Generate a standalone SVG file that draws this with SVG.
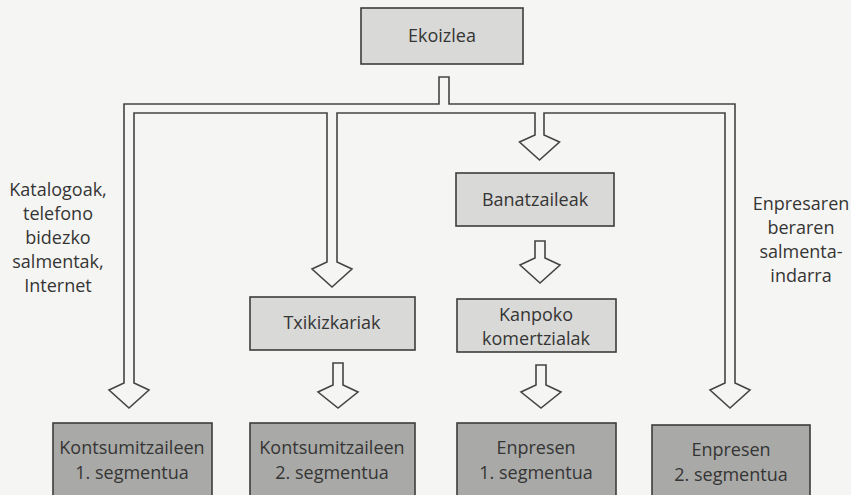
<svg xmlns="http://www.w3.org/2000/svg" width="851" height="495" viewBox="0 0 851 495">
  <style>
    .box { stroke: #3c3c3c; stroke-width: 1.6; }
    .light { fill: #d9d9d7; }
    .dark { fill: #a9a9a7; }
    .lbl { font-family: "Open Sans", "Noto Sans", sans-serif; font-size: 18px; fill: #353535; text-anchor: middle; }
    .pipe { fill: #f5f5f3; stroke: #444; stroke-width: 1.6; stroke-linejoin: miter; }
  </style>
  <rect x="0" y="0" width="851" height="495" fill="#f5f5f3"/>

  <!-- hollow distribution channels and block arrows -->
  <g id="connectors">
    <path class="pipe" d="M124,104 H439 V77 H449 V104 H735 V383 L750,390 L730,408 L710,390 L725,383 V113 H544 V135 L559.5,142 L539.5,160 L519.5,142 L535,135 V113 H337 V262 L352,269 L332,287 L312,269 L327,262 V113 H134 V383 L149,390 L129,408 L109,390 L124,383 Z"/>
    <path class="pipe" d="M535,241 H545 V258 L560,265 L540,283 L520,265 L535,258 Z"/>
    <path class="pipe" d="M333,363 H343 V385 L358,392 L338,408 L318,392 L333,385 Z"/>
    <path class="pipe" d="M536,365 H546 V385 L561,392 L541,408 L521,392 L536,385 Z"/>
  </g>

  <g id="ekoizlea">
    <rect class="box light" x="361" y="8" width="162" height="56"/>
    <text class="lbl" x="442" y="42">Ekoizlea</text>
  </g>

  <g id="banatzaileak">
    <rect class="box light" x="456" y="173" width="158" height="53"/>
    <text class="lbl" x="535" y="206">Banatzaileak</text>
  </g>

  <g id="txikizkariak">
    <rect class="box light" x="250" y="297" width="165" height="53"/>
    <text class="lbl" x="332" y="329">Txikizkariak</text>
  </g>

  <g id="kanpoko-komertzialak">
    <rect class="box light" x="457" y="299" width="159" height="53"/>
    <text class="lbl" x="536" y="321">Kanpoko</text>
    <text class="lbl" x="536" y="345">komertzialak</text>
  </g>

  <g id="kontsumitzaileen-1">
    <rect class="box dark" x="53" y="423" width="159" height="80"/>
    <text class="lbl" x="132" y="454">Kontsumitzaileen</text>
    <text class="lbl" x="132" y="479">1. segmentua</text>
  </g>

  <g id="kontsumitzaileen-2">
    <rect class="box dark" x="250" y="423" width="165" height="80"/>
    <text class="lbl" x="332" y="454">Kontsumitzaileen</text>
    <text class="lbl" x="332" y="479">2. segmentua</text>
  </g>

  <g id="enpresen-1">
    <rect class="box dark" x="457" y="423" width="159" height="80"/>
    <text class="lbl" x="536" y="454">Enpresen</text>
    <text class="lbl" x="536" y="479">1. segmentua</text>
  </g>

  <g id="enpresen-2">
    <rect class="box dark" x="652" y="425" width="158" height="80"/>
    <text class="lbl" x="731" y="456">Enpresen</text>
    <text class="lbl" x="731" y="481">2. segmentua</text>
  </g>

  <g id="label-katalogoak">
    <text class="lbl" x="58" y="196">Katalogoak,</text>
    <text class="lbl" x="58" y="220">telefono</text>
    <text class="lbl" x="58" y="244">bidezko</text>
    <text class="lbl" x="58" y="268">salmentak,</text>
    <text class="lbl" x="58" y="292">Internet</text>
  </g>

  <g id="label-enpresaren">
    <text class="lbl" x="801" y="210">Enpresaren</text>
    <text class="lbl" x="801" y="234">beraren</text>
    <text class="lbl" x="801" y="258">salmenta-</text>
    <text class="lbl" x="801" y="282">indarra</text>
  </g>
</svg>
